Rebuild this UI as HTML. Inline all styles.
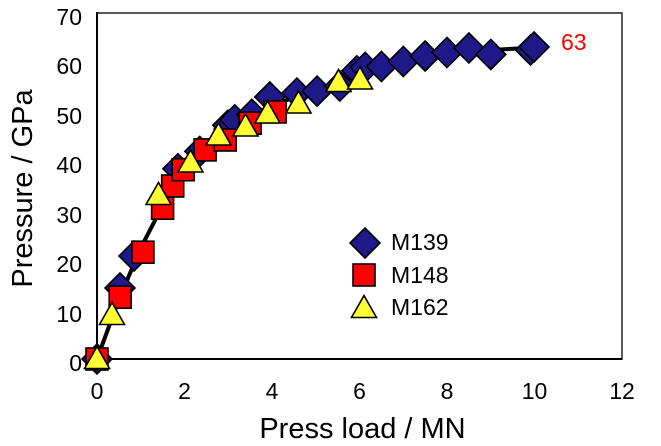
<!DOCTYPE html>
<html><head><meta charset="utf-8">
<style>
html,body{margin:0;padding:0;background:#fff;}
svg{display:block;}
text{font-family:"Liberation Sans",Arial,sans-serif;}
</style></head>
<body>
<svg width="661" height="446" viewBox="0 0 661 446" xmlns="http://www.w3.org/2000/svg">
<defs>
<polygon id="dia" points="0,-15 15,0 0,15 -15,0" fill="#1f1888" stroke="#000" stroke-width="1.6"/>
<rect id="sq" x="-11" y="-11" width="22" height="22" fill="#ff0000" stroke="#000" stroke-width="1.6"/>
<polygon id="tri" points="0,-11.5 12.5,10.5 -12.5,10.5" fill="#ffff33" stroke="#000" stroke-width="1.6"/>
</defs>
<rect x="0" y="0" width="661" height="446" fill="#fff"/>
<rect x="97" y="13" width="525" height="346" fill="#fff" stroke="#222" stroke-width="1.5"/>
<line x1="97" y1="12" x2="97" y2="360" stroke="#000" stroke-width="2"/>
<line x1="96" y1="359" x2="622" y2="359" stroke="#000" stroke-width="2"/>

<g font-size="23" text-anchor="end" fill="#000">
<text x="82" y="371">0</text>
<text x="82" y="322">10</text>
<text x="82" y="272">20</text>
<text x="82" y="223">30</text>
<text x="82" y="173">40</text>
<text x="82" y="124">50</text>
<text x="82" y="74">60</text>
<text x="82" y="25">70</text>
</g>
<g font-size="23" text-anchor="middle" fill="#000">
<text x="97" y="399">0</text>
<text x="184.5" y="399">2</text>
<text x="272" y="399">4</text>
<text x="359.5" y="399">6</text>
<text x="447" y="399">8</text>
<text x="534.5" y="399">10</text>
<text x="622" y="399">12</text>
</g>
<text x="362.5" y="438" font-size="29" text-anchor="middle" fill="#000">Press load / MN</text>
<text transform="translate(32,188.5) rotate(-90)" x="0" y="0" font-size="29" text-anchor="middle" fill="#000">Pressure / GPa</text>

<polyline fill="none" stroke="#000" stroke-width="4" stroke-linejoin="round" points="97,359 118.9,299.7 140.75,247.8 162.6,205.8 184.5,171.2 206.4,149 228.25,130.1 250.1,116.8 272,105.4 315.75,89.6 359.5,74.8 403.25,62.4 447,54 490.75,50 534.5,47.6"/>

<g>
<use href="#dia" x="97" y="359"/>
<use href="#dia" x="120" y="288"/>
<use href="#dia" x="134" y="256"/>
<use href="#dia" x="177.9" y="168.7"/>
<use href="#dia" x="199.8" y="151.4"/>
<use href="#dia" x="227.8" y="125.2"/>
<use href="#dia" x="234.8" y="119.8"/>
<use href="#dia" x="251.9" y="114.3"/>
<use href="#dia" x="269.8" y="97"/>
<use href="#dia" x="296.9" y="93.1"/>
<use href="#dia" x="317.1" y="91.1"/>
<use href="#dia" x="339.8" y="86"/>
<use href="#dia" x="356.9" y="70.8"/>
<use href="#dia" x="365.2" y="67.4"/>
<use href="#dia" x="381.4" y="66.5"/>
<use href="#dia" x="403.3" y="61.5"/>
<use href="#dia" x="425.1" y="56"/>
<use href="#dia" x="447" y="52.5"/>
<use href="#dia" x="468.9" y="48"/>
<use href="#dia" x="490.8" y="54.5"/>
<use href="#dia" x="530.5" y="50"/>
<use href="#dia" x="534" y="47"/>
</g>
<g>
<use href="#sq" x="97" y="359"/>
<use href="#sq" x="120.2" y="297.2"/>
<use href="#sq" x="142.9" y="252.2"/>
<use href="#sq" x="162.6" y="208.2"/>
<use href="#sq" x="172.7" y="186"/>
<use href="#sq" x="183.2" y="169.7"/>
<use href="#sq" x="205.1" y="149.9"/>
<use href="#sq" x="225.2" y="140"/>
<use href="#sq" x="250.1" y="123.2"/>
<use href="#sq" x="275.1" y="111.9"/>
</g>
<g>
<use href="#tri" x="97" y="358"/>
<use href="#tri" x="112" y="314"/>
<use href="#tri" x="158.5" y="194"/>
<use href="#tri" x="190.5" y="161.5"/>
<use href="#tri" x="218.5" y="134.5"/>
<use href="#tri" x="245.5" y="125.5"/>
<use href="#tri" x="267.5" y="112.5"/>
<use href="#tri" x="298.5" y="102.5"/>
<use href="#tri" x="338.5" y="81"/>
<use href="#tri" x="360" y="78.5"/>
</g>

<text x="561" y="50" font-size="23" fill="#ff0000">63</text>

<use href="#dia" x="365" y="243"/>
<use href="#sq" x="364" y="275"/>
<use href="#tri" x="364" y="307"/>
<g font-size="23" fill="#000">
<text x="391" y="250">M139</text>
<text x="391" y="283">M148</text>
<text x="391" y="315">M162</text>
</g>
</svg>
</body></html>
